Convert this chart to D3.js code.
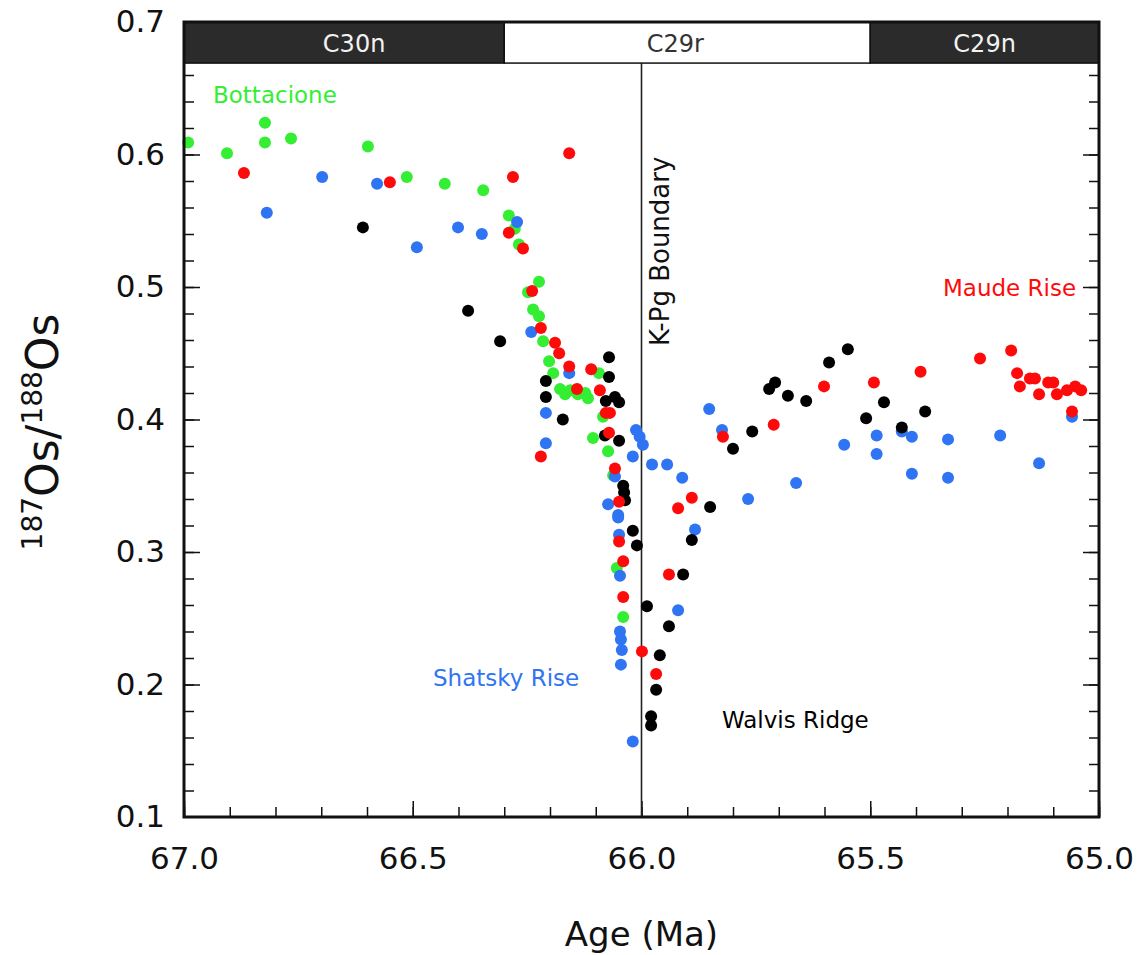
<!DOCTYPE html>
<html>
<head>
<meta charset="utf-8">
<script src="https://cdnjs.cloudflare.com/ajax/libs/d3/7.8.5/d3.min.js"></script>
<title>Os isotope record across the K-Pg boundary</title>
<style>
  html, body { margin: 0; background: #fff; }
  svg { display: block; font-family: "DejaVu Sans", sans-serif; }
</style>
</head>
<body>
<svg width="1139" height="955"></svg>
<script>
// [age (Ma), 187Os/188Os]
var bottacione = [
  [66.991, 0.609], [66.906, 0.601], [66.823, 0.624], [66.823, 0.609], [66.766, 0.612],
  [66.598, 0.606], [66.513, 0.583], [66.430, 0.578], [66.346, 0.573], [66.290, 0.554],
  [66.277, 0.544], [66.268, 0.532], [66.224, 0.504], [66.248, 0.496], [66.237, 0.483],
  [66.224, 0.478], [66.215, 0.459], [66.202, 0.444], [66.193, 0.435], [66.178, 0.423],
  [66.167, 0.419], [66.156, 0.422], [66.139, 0.419], [66.123, 0.420], [66.117, 0.416],
  [66.093, 0.435], [66.084, 0.402], [66.106, 0.386], [66.073, 0.376], [66.062, 0.358],
  [66.054, 0.288], [66.040, 0.251]
];
var shatsky = [
  [66.819, 0.556], [66.698, 0.583], [66.578, 0.578], [66.491, 0.530], [66.401, 0.545],
  [66.349, 0.540], [66.272, 0.549], [66.241, 0.466], [66.158, 0.435], [66.209, 0.405],
  [66.209, 0.382], [66.012, 0.392], [66.004, 0.387], [65.997, 0.381], [66.019, 0.372],
  [65.977, 0.366], [65.944, 0.366], [66.058, 0.357], [66.073, 0.336], [66.051, 0.328],
  [66.051, 0.326], [66.049, 0.313], [66.047, 0.282], [66.047, 0.240], [66.045, 0.234],
  [66.043, 0.226], [66.045, 0.215], [66.019, 0.157], [65.920, 0.256], [65.911, 0.356],
  [65.883, 0.317], [65.852, 0.408], [65.824, 0.392], [65.767, 0.340], [65.662, 0.352],
  [65.557, 0.381], [65.486, 0.388], [65.486, 0.374], [65.431, 0.391], [65.409, 0.387],
  [65.409, 0.359], [65.330, 0.385], [65.330, 0.356], [65.216, 0.388], [65.131, 0.367],
  [65.059, 0.402]
];
var walvis = [
  [66.609, 0.545], [66.379, 0.482], [66.309, 0.459], [66.209, 0.429], [66.209, 0.417],
  [66.172, 0.400], [66.071, 0.447], [66.071, 0.432], [66.078, 0.414], [66.058, 0.417],
  [66.049, 0.413], [66.080, 0.388], [66.049, 0.384], [66.040, 0.350], [66.038, 0.345],
  [66.036, 0.339], [66.019, 0.316], [66.010, 0.305], [65.988, 0.259], [65.940, 0.244],
  [65.960, 0.222], [65.968, 0.196], [65.979, 0.176], [65.979, 0.169], [65.909, 0.283],
  [65.890, 0.309], [65.850, 0.334], [65.800, 0.378], [65.758, 0.391], [65.721, 0.423],
  [65.708, 0.428], [65.680, 0.418], [65.640, 0.414], [65.590, 0.443], [65.549, 0.453],
  [65.509, 0.401], [65.470, 0.413], [65.431, 0.394], [65.380, 0.406]
];
var maude = [
  [66.869, 0.586], [66.550, 0.579], [66.281, 0.583], [66.290, 0.541], [66.158, 0.601],
  [66.259, 0.529], [66.239, 0.497], [66.220, 0.469], [66.189, 0.458], [66.180, 0.450],
  [66.158, 0.440], [66.141, 0.423], [66.110, 0.438], [66.091, 0.422], [66.078, 0.405],
  [66.069, 0.405], [66.071, 0.390], [66.220, 0.372], [66.058, 0.363], [66.049, 0.338],
  [66.049, 0.308], [66.040, 0.293], [66.040, 0.266], [65.999, 0.225], [65.968, 0.208],
  [65.940, 0.283], [65.920, 0.333], [65.890, 0.341], [65.822, 0.387], [65.711, 0.396],
  [65.601, 0.425], [65.492, 0.428], [65.390, 0.436], [65.260, 0.446], [65.192, 0.452],
  [65.179, 0.435], [65.173, 0.425], [65.151, 0.431], [65.140, 0.431], [65.131, 0.419],
  [65.111, 0.428], [65.100, 0.428], [65.092, 0.419], [65.070, 0.422], [65.052, 0.425],
  [65.039, 0.422], [65.059, 0.406]
];

var seriesNames = ["Bottacione", "Shatsky Rise", "Walvis Ridge", "Maude Rise"];
var seriesColors = ["#33ee33", "#2f74f2", "#000000", "#ff0a0a"];

var chronNames = ["C30n", "C29r", "C29n"];
var chronStart = [67.0, 66.30, 65.50];
var chronEnd = [66.30, 65.50, 65.0];
var chronFill = ["#2b2b2b", "#ffffff", "#2b2b2b"];

var xTickLabels = [67.0, 66.5, 66.0, 65.5, 65.0];
var yTickLabels = [0.1, 0.2, 0.3, 0.4, 0.5, 0.6, 0.7];
var kpgAge = 66.0;

var margin = {left: 184, top: 22, right: 40, bottom: 138};
var width = 1139 - margin.left - margin.right;
var height = 955 - margin.top - margin.bottom;

var svg = d3.select("svg");
var g = svg.append("g").attr("transform", "translate(" + margin.left + "," + margin.top + ")");

var x = d3.scaleLinear().domain([67.0, 65.0]).range([0, width]);
var y = d3.scaleLinear().domain([0.1, 0.7]).range([height, 0]);

// minor + major ticks, pointing inside
var xMinor = d3.range(0, 21).map(function(i){ return 67.0 - i * 0.1; });
var yMinor = d3.range(0, 31).map(function(i){ return 0.1 + i * 0.02; });

g.append("g")
  .attr("transform", "translate(0," + height + ")")
  .call(d3.axisBottom(x).tickValues(xMinor).tickSize(-10).tickFormat(""))
  .call(function(a){ a.select(".domain").remove(); a.selectAll("line").attr("stroke", "#111").attr("stroke-width", 1.5); });
g.append("g")
  .attr("transform", "translate(0," + height + ")")
  .call(d3.axisBottom(x).tickValues(xTickLabels).tickSize(-16).tickPadding(30).tickFormat(d3.format(".1f")))
  .call(function(a){
    a.select(".domain").remove();
    a.selectAll("line").attr("stroke", "#111").attr("stroke-width", 1.5);
    a.selectAll("text").attr("font-size", 31).attr("font-family", "DejaVu Sans").attr("fill", "#111");
  });

[0, width].forEach(function(px, side) {
  var minorAxis = side === 0 ? d3.axisLeft(y).tickSize(-10) : d3.axisRight(y).tickSize(-10);
  var majorAxis = side === 0 ? d3.axisLeft(y).tickSize(-16) : d3.axisRight(y).tickSize(-16);
  g.append("g")
    .attr("transform", "translate(" + px + ",0)")
    .call(minorAxis.tickValues(yMinor.slice(1, -1)).tickFormat(""))
    .call(function(a){ a.select(".domain").remove(); a.selectAll("line").attr("stroke", "#111").attr("stroke-width", 1.5); });
  g.append("g")
    .attr("transform", "translate(" + px + ",0)")
    .call(majorAxis.tickValues(yTickLabels.slice(1, -1)).tickFormat(""))
    .call(function(a){ a.select(".domain").remove(); a.selectAll("line").attr("stroke", "#111").attr("stroke-width", 1.5); });
});

// y tick labels on the left
g.append("g")
  .call(d3.axisLeft(y).tickValues(yTickLabels).tickSize(0).tickPadding(19).tickFormat(d3.format(".1f")))
  .call(function(a){
    a.select(".domain").remove();
    a.selectAll("text").attr("font-size", 31).attr("font-family", "DejaVu Sans").attr("fill", "#111");
  });

// K-Pg boundary line
g.append("line")
  .attr("x1", x(kpgAge)).attr("x2", x(kpgAge))
  .attr("y1", y(0.669)).attr("y2", height)
  .attr("stroke", "#222").attr("stroke-width", 1.6);

// data points
var all = [bottacione, shatsky, walvis, maude];
all.forEach(function(data, i) {
  g.append("g").selectAll("circle")
    .data(data)
    .enter()
    .append("circle")
    .attr("cx", function(d){ return x(d[0]); })
    .attr("cy", function(d){ return y(d[1]); })
    .attr("r", 6)
    .attr("fill", seriesColors[i]);
});

// magnetochron bar
var chronShift = [10, -12, 0];
var chron = g.append("g");
chronNames.forEach(function(name, i) {
  chron.append("rect")
    .attr("x", x(chronStart[i])).attr("width", x(chronEnd[i]) - x(chronStart[i]))
    .attr("y", y(0.7)).attr("height", y(0.669) - y(0.7))
    .attr("fill", chronFill[i]).attr("stroke", "#111").attr("stroke-width", 1.5);
  chron.append("text")
    .attr("x", (x(chronStart[i]) + x(chronEnd[i])) / 2 + chronShift[i])
    .attr("y", (y(0.7) + y(0.669)) / 2 + 9)
    .attr("text-anchor", "middle")
    .attr("font-size", 24)
    .attr("fill", chronFill[i] === "#ffffff" ? "#333" : "#f2f2f2")
    .text(name);
});

// frame
g.append("rect")
  .attr("x", 0).attr("y", 0).attr("width", width).attr("height", height)
  .attr("fill", "none").attr("stroke", "#111").attr("stroke-width", 3);

// series labels
var labelPos = [[213, 103, "start"], [433, 686, "start"], [722, 728, "start"], [943, 296, "start"]];
seriesNames.forEach(function(name, i) {
  svg.append("text")
    .attr("x", labelPos[i][0]).attr("y", labelPos[i][1])
    .attr("text-anchor", labelPos[i][2])
    .attr("font-size", 23)
    .attr("fill", seriesColors[i])
    .text(name);
});

svg.append("text")
  .attr("transform", "translate(669,346) rotate(-90)")
  .attr("font-size", 26)
  .attr("fill", "#111")
  .text("K-Pg Boundary");

// axis titles
svg.append("text")
  .attr("x", margin.left + x(66.0)).attr("y", 946)
  .attr("text-anchor", "middle")
  .attr("font-size", 34)
  .attr("fill", "#111")
  .text("Age (Ma)");

var yt = svg.append("text")
  .attr("transform", "translate(58,432) rotate(-90)")
  .attr("text-anchor", "middle")
  .attr("font-size", 44)
  .attr("fill", "#111");
yt.append("tspan").attr("font-size", 28).attr("dy", -16).text("187");
yt.append("tspan").attr("dy", 16).text("Os/");
yt.append("tspan").attr("font-size", 28).attr("dy", -16).text("188");
yt.append("tspan").attr("dy", 16).text("Os");
</script>
</body>
</html>
